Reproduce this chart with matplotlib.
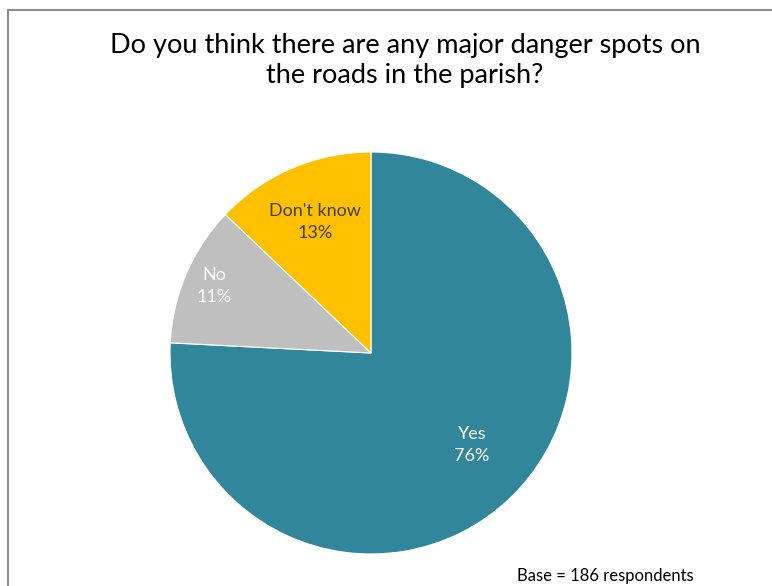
import matplotlib
matplotlib.use("Agg")
import matplotlib.pyplot as plt
import numpy as np
from matplotlib.lines import Line2D

categories = ["Yes", "No", "Don't know"]
counts = [141, 21, 24]
pct_labels = ["76%", "11%", "13%"]
colors = ["#31869B", "#BFBFBF", "#FFC000"]
text_colors = ["white", "white", "#404040"]
label_dist = [0.68, 0.85, 0.71]
title = "Do you think there are any major danger spots on\nthe roads in the parish?"
footnote = "Base = 186 respondents"

plt.rcParams['font.family'] = ['Lato', 'DejaVu Sans']

W, H = 772, 586
fig = plt.figure(figsize=(W/100, H/100), dpi=100)

# frame (cropped chart border)
fig.add_artist(Line2D([8/W, 8/W], [0, 1-10/H], transform=fig.transFigure, color="#8C8C8C", lw=1.5))
fig.add_artist(Line2D([8/W, 1], [1-10/H, 1-10/H], transform=fig.transFigure, color="#8C8C8C", lw=1.5))

cx, cy, r = 371, 353, 201
ax = fig.add_axes([(cx-r)/W, (H-cy-r)/H, 2*r/W, 2*r/H])
wedges, _ = ax.pie(counts, colors=colors, startangle=90, counterclock=False,
                   radius=1, wedgeprops=dict(edgecolor="white", linewidth=0.8))
ax.set_xlim(-1, 1)
ax.set_ylim(-1, 1)
ax.set_aspect('equal')
ax.axis('off')

for w, cat, pct, tc, d in zip(wedges, categories, pct_labels, text_colors, label_dist):
    ang = np.deg2rad((w.theta1 + w.theta2) / 2 + (4 if cat == "Yes" else 0))
    ax.text(d*np.cos(ang), d*np.sin(ang), f"{cat}\n{pct}", ha="center", va="center",
            color=tc, fontsize=13, linespacing=1.45)

fig.text(405/W, 1-60/H, title, ha="center", va="center", fontsize=19.5, color="black", linespacing=1.25)
fig.text(605/W, 1-576/H, footnote, ha="center", va="center", fontsize=12, color="black")

fig.savefig("out.png", dpi=100)
